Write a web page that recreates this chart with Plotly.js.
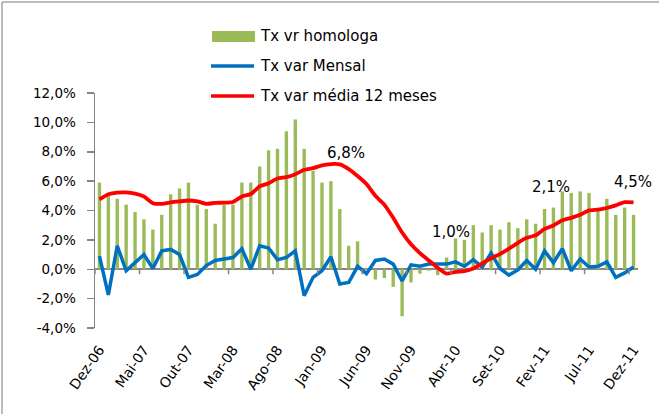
<!DOCTYPE html>
<html>
<head>
<meta charset="utf-8">
<script src="https://cdn.plot.ly/plotly-3.0.1.min.js"></script>
<style>
  html, body { margin: 0; padding: 0; background: #ffffff; }
  #chart { width: 659px; height: 414px; }
</style>
</head>
<body>
<div id="chart"></div>
<script>
// ---- data ----
const categories = ["Dez-06","Jan-07","Fev-07","Mar-07","Abr-07","Mai-07","Jun-07","Jul-07","Ago-07","Set-07","Out-07","Nov-07","Dez-07",
  "Jan-08","Fev-08","Mar-08","Abr-08","Mai-08","Jun-08","Jul-08","Ago-08","Set-08","Out-08","Nov-08","Dez-08",
  "Jan-09","Fev-09","Mar-09","Abr-09","Mai-09","Jun-09","Jul-09","Ago-09","Set-09","Out-09","Nov-09","Dez-09",
  "Jan-10","Fev-10","Mar-10","Abr-10","Mai-10","Jun-10","Jul-10","Ago-10","Set-10","Out-10","Nov-10","Dez-10",
  "Jan-11","Fev-11","Mar-11","Abr-11","Mai-11","Jun-11","Jul-11","Ago-11","Set-11","Out-11","Nov-11","Dez-11"];

const txHomologa = [5.9, 5.0, 4.8, 4.4, 3.9, 3.4, 2.7, 3.7, 5.1, 5.5, 5.9, 4.4, 4.1,
  3.1, 4.4, 4.4, 5.9, 5.9, 7.0, 8.1, 8.2, 9.4, 10.2, 8.2, 6.7,
  5.9, 6.0, 4.1, 1.6, 1.9, 0.1, -0.7, -0.6, -1.2, -3.2, -0.9, -0.3,
  -0.1, -0.4, 0.8, 2.1, 2.0, 3.0, 2.5, 3.0, 2.7, 3.2, 2.8, 3.4,
  3.1, 4.1, 4.2, 5.3, 5.2, 5.3, 5.2, 4.0, 4.8, 3.7, 4.2, 3.7];

const txMensal = [0.9, -1.75, 1.6, -0.1, 0.45, 1.0, 0.05, 1.25, 1.35, 1.0, -0.55, -0.35, 0.25,
  0.6, 0.7, 0.8, 1.4, 0.0, 1.6, 1.45, 0.65, 0.8, 1.25, -1.8, -0.55,
  -0.1, 0.85, -1.0, -0.9, 0.2, -0.3, 0.6, 0.7, 0.35, -0.8, 0.3, 0.2,
  0.35, 0.35, 0.35, 0.5, 0.2, 0.65, 0.15, 1.1, 0.05, -0.4, -0.05, 0.6,
  0.0, 1.25, 0.45, 1.4, -0.1, 0.7, 0.15, 0.2, 0.5, -0.55, -0.25, 0.15];

const txMedia12 = [4.75, 5.1, 5.22, 5.23, 5.15, 4.95, 4.5, 4.45, 4.55, 4.62, 4.68, 4.62, 4.45,
  4.52, 4.53, 4.58, 4.95, 5.12, 5.64, 5.86, 6.18, 6.27, 6.47, 6.77, 6.88,
  7.07, 7.16, 7.14, 6.82, 6.35, 5.8, 5.0, 4.4, 3.5, 2.5, 1.7, 1.1,
  0.6, 0.1, -0.3, -0.18, -0.13, 0.05, 0.4, 0.75, 1.03, 1.4, 1.8, 2.14,
  2.31, 2.75, 2.98, 3.33, 3.5, 3.71, 4.01, 4.06, 4.17, 4.35, 4.57, 4.56];

const xTickLabels = ["Dez-06","Mai-07","Out-07","Mar-08","Ago-08","Jan-09","Jun-09","Nov-09","Abr-10","Set-10","Fev-11","Jul-11","Dez-11"];
const yTickVals = [-4, -2, 0, 2, 4, 6, 8, 10, 12];
const yTickText = ["-4,0%", "-2,0%", "0,0%", "2,0%", "4,0%", "6,0%", "8,0%", "10,0%", "12,0%"];

const seriesNames = ["Tx vr homologa", "Tx var Mensal", "Tx var média 12 meses"];
const labelTexts = ["6,8%", "1,0%", "2,1%", "4,5%"];
const labelX = [27.7, 39.5, 50.75, 59.97];
const labelY = [7.9, 2.57, 5.62, 5.95];

// ---- style ----
const GREEN = "#9BBB59", BLUE = "#0070C0", RED = "#FF0000", AXIS = "#868686";
const FONT = "DejaVu Sans, Liberation Sans, sans-serif";
const W = 659, H = 414, ML = 95, MR = 21, MT = 93, MB = 86;
const PW = W - ML - MR, PH = H - MT - MB;
const px = x => (x - ML) / PW;
const py = y => (H - MB - y) / PH;

const traces = [
  { type: "bar", x: categories, y: txHomologa, name: seriesNames[0],
    marker: { color: GREEN }, hoverinfo: "skip" },
  { type: "scatter", mode: "lines", x: categories, y: txMensal, name: seriesNames[1],
    line: { color: BLUE, width: 3.5 }, hoverinfo: "skip" },
  { type: "scatter", mode: "lines", x: categories, y: txMedia12, name: seriesNames[2],
    line: { color: RED, width: 3.8, shape: "spline", smoothing: 0.5 }, hoverinfo: "skip" }
];

const shapes = [];
// category tick marks at boundaries on the zero axis line
for (let k = -0.5; k <= categories.length - 1; k += 5) {
  shapes.push({ type: "line", xref: "x", yref: "y", x0: k, x1: k,
    ysizemode: "pixel", yanchor: 0, y0: 0, y1: -5,
    line: { color: AXIS, width: 1.5 } });
}
// outer chart border (top and left)
shapes.push({ type: "line", xref: "paper", yref: "paper", x0: px(2), x1: px(700), y0: py(2), y1: py(2),
  line: { color: "#A6A6A6", width: 1.5 } });
shapes.push({ type: "line", xref: "paper", yref: "paper", x0: px(2), x1: px(2), y0: py(2), y1: py(430),
  line: { color: "#A6A6A6", width: 1.5 } });
// custom legend samples
shapes.push({ type: "rect", xref: "paper", yref: "paper", x0: px(212), x1: px(255), y0: py(42), y1: py(31),
  fillcolor: GREEN, line: { width: 0 } });
shapes.push({ type: "line", xref: "paper", yref: "paper", x0: px(211), x1: px(254), y0: py(66), y1: py(66),
  line: { color: BLUE, width: 3.5 } });
shapes.push({ type: "line", xref: "paper", yref: "paper", x0: px(211), x1: px(254), y0: py(96), y1: py(96),
  line: { color: RED, width: 3.5 } });

const annotations = [];
const legendY = [36, 66, 96];
for (let i = 0; i < seriesNames.length; i++) {
  annotations.push({ xref: "paper", yref: "paper", x: px(258), y: py(legendY[i]),
    xanchor: "left", yanchor: "middle", showarrow: false, text: seriesNames[i],
    font: { family: FONT, size: 15, color: "#000000" } });
}
for (let i = 0; i < labelTexts.length; i++) {
  annotations.push({ xref: "x", yref: "y", x: labelX[i], y: labelY[i],
    xanchor: "center", yanchor: "middle", showarrow: false, text: labelTexts[i],
    font: { family: FONT, size: 15, color: "#000000" } });
}

const layout = {
  width: W, height: H,
  margin: { l: ML, r: MR, t: MT, b: MB, pad: 0 },
  paper_bgcolor: "#ffffff", plot_bgcolor: "#ffffff",
  showlegend: false,
  bargap: 0.62,
  font: { family: FONT, size: 13, color: "#000000" },
  xaxis: {
    type: "category", categoryorder: "array", categoryarray: categories,
    range: [-0.5, categories.length - 0.5],
    tickmode: "array", tickvals: xTickLabels, ticktext: xTickLabels,
    tickangle: -55, ticks: "", showline: false, showgrid: false, zeroline: false,
    ticklabelstandoff: 10,
    tickfont: { family: FONT, size: 14, color: "#000000" }
  },
  yaxis: {
    range: [-4, 12], tickmode: "array", tickvals: yTickVals, ticktext: yTickText,
    ticks: "outside", ticklen: 7, tickwidth: 1.5, tickcolor: AXIS,
    showline: true, linecolor: AXIS, linewidth: 1.5,
    showgrid: false, zeroline: true, zerolinecolor: AXIS, zerolinewidth: 2,
    ticklabelstandoff: 8,
    tickfont: { family: FONT, size: 13.5, color: "#000000" }
  },
  shapes: shapes,
  annotations: annotations
};

Plotly.newPlot("chart", traces, layout, { staticPlot: true, displayModeBar: false });
</script>
</body>
</html>
